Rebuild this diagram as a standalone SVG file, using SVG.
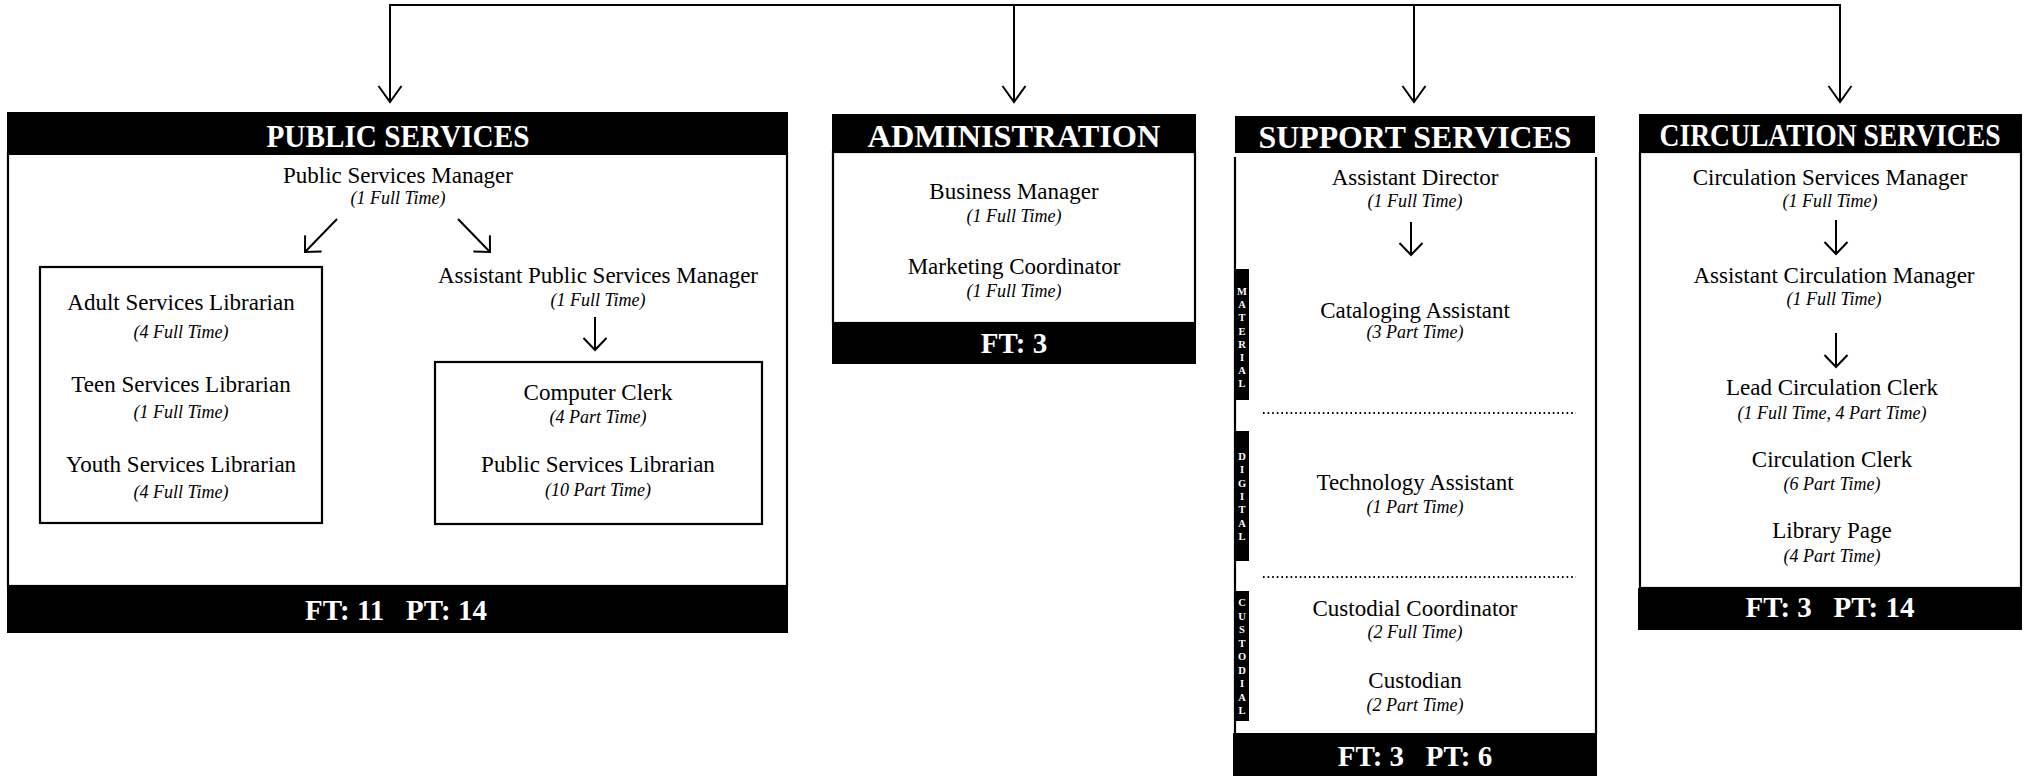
<svg xmlns="http://www.w3.org/2000/svg" width="2025" height="776" viewBox="0 0 2025 776">
<style>
.bg{fill:#fff}
.bar{fill:#000}
.box{fill:#fff;stroke:#000;stroke-width:2.2}
.edge{fill:none;stroke:#000;stroke-width:2.2}
.ln{fill:none;stroke:#000;stroke-width:2}
.dot{fill:none;stroke:#000;stroke-width:2;stroke-dasharray:1.6 3}
text{font-family:"Liberation Serif","Times New Roman",serif;text-anchor:middle}
.h{font-size:32px;font-weight:bold;fill:#fff}
.f{font-size:29px;font-weight:bold;fill:#fff}
.t{font-size:23px;fill:#000}
.i{font-size:18px;font-style:italic;fill:#000}
.s{font-size:10.5px;font-weight:bold;fill:#fff}
</style>
<defs>
<marker id="ahMain" markerUnits="userSpaceOnUse" markerWidth="40" markerHeight="40" viewBox="-20 -20 40 40" refX="0" refY="0" orient="auto" overflow="visible">
<path d="M-16,-11.5 L0,0 L-16,11.5" fill="none" stroke="#000" stroke-width="2"/>
</marker>
<marker id="ahSmall" markerUnits="userSpaceOnUse" markerWidth="40" markerHeight="40" viewBox="-20 -20 40 40" refX="0" refY="0" orient="auto" overflow="visible">
<path d="M-12,-11.5 L0,0 L-12,11.5" fill="none" stroke="#000" stroke-width="2"/>
</marker>
</defs>
<rect class="bg" x="0" y="0" width="2025" height="776"/>

<g id="public-services">
<rect class="box" x="8" y="153" width="779" height="433"/>
<rect class="bar" x="7" y="112" width="781" height="43"/>
<rect class="bar" x="7" y="585" width="781" height="48"/>
<text class="h" x="398" y="147" textLength="263" lengthAdjust="spacingAndGlyphs">PUBLIC SERVICES</text>
<text class="t" x="398" y="183">Public Services Manager</text>
<text class="i" x="398" y="204">(1 Full Time)</text>
<rect class="box" x="40" y="267" width="282" height="256"/>
<text class="t" x="181" y="310">Adult Services Librarian</text>
<text class="i" x="181" y="338">(4 Full Time)</text>
<text class="t" x="181" y="392">Teen Services Librarian</text>
<text class="i" x="181" y="418">(1 Full Time)</text>
<text class="t" x="181" y="472">Youth Services Librarian</text>
<text class="i" x="181" y="498">(4 Full Time)</text>
<text class="t" x="598" y="283">Assistant Public Services Manager</text>
<text class="i" x="598" y="306">(1 Full Time)</text>
<rect class="box" x="435" y="362" width="327" height="162"/>
<text class="t" x="598" y="400">Computer Clerk</text>
<text class="i" x="598" y="423">(4 Part Time)</text>
<text class="t" x="598" y="472">Public Services Librarian</text>
<text class="i" x="598" y="496">(10 Part Time)</text>
<text class="f" x="396" y="620" xml:space="preserve">FT: 11   PT: 14</text>
</g>

<g id="administration">
<rect class="box" x="833" y="152" width="362" height="171"/>
<rect class="bar" x="832" y="114" width="364" height="39"/>
<rect class="bar" x="832" y="322" width="364" height="42"/>
<text class="h" x="1014" y="147" textLength="293" lengthAdjust="spacingAndGlyphs">ADMINISTRATION</text>
<text class="t" x="1014" y="199">Business Manager</text>
<text class="i" x="1014" y="222">(1 Full Time)</text>
<text class="t" x="1014" y="274">Marketing Coordinator</text>
<text class="i" x="1014" y="297">(1 Full Time)</text>
<text class="f" x="1014" y="353">FT: 3</text>
</g>

<g id="support-services">
<path class="edge" d="M1235,157 V734 M1596,157 V734"/>
<rect class="bar" x="1235" y="116" width="360" height="37"/>
<rect class="bar" x="1233" y="733" width="364" height="43"/>
<text class="h" x="1415" y="148" textLength="313" lengthAdjust="spacingAndGlyphs">SUPPORT SERVICES</text>
<text class="t" x="1415" y="185">Assistant Director</text>
<text class="i" x="1415" y="207">(1 Full Time)</text>
<text class="t" x="1415" y="318">Cataloging Assistant</text>
<text class="i" x="1415" y="338">(3 Part Time)</text>
<path class="dot" d="M1263,413 H1576"/>
<text class="t" x="1415" y="490">Technology Assistant</text>
<text class="i" x="1415" y="513">(1 Part Time)</text>
<path class="dot" d="M1263,577 H1576"/>
<text class="t" x="1415" y="616">Custodial Coordinator</text>
<text class="i" x="1415" y="638">(2 Full Time)</text>
<text class="t" x="1415" y="688">Custodian</text>
<text class="i" x="1415" y="711">(2 Part Time)</text>
<text class="f" x="1415" y="766" xml:space="preserve">FT: 3   PT: 6</text>
<g id="label-material">
<rect class="bar" x="1234" y="269" width="15" height="131"/>
<text class="s"><tspan x="1242" y="295">M</tspan><tspan x="1242" y="308.2">A</tspan><tspan x="1242" y="321.4">T</tspan><tspan x="1242" y="334.6">E</tspan><tspan x="1242" y="347.8">R</tspan><tspan x="1242" y="361">I</tspan><tspan x="1242" y="374.2">A</tspan><tspan x="1242" y="387.4">L</tspan></text>
</g>
<g id="label-digital">
<rect class="bar" x="1234" y="431" width="15" height="130"/>
<text class="s"><tspan x="1242" y="460">D</tspan><tspan x="1242" y="473.3">I</tspan><tspan x="1242" y="486.6">G</tspan><tspan x="1242" y="499.9">I</tspan><tspan x="1242" y="513.2">T</tspan><tspan x="1242" y="526.5">A</tspan><tspan x="1242" y="539.8">L</tspan></text>
</g>
<g id="label-custodial">
<rect class="bar" x="1234" y="591" width="15" height="130"/>
<text class="s"><tspan x="1242" y="606">C</tspan><tspan x="1242" y="619.5">U</tspan><tspan x="1242" y="633">S</tspan><tspan x="1242" y="646.5">T</tspan><tspan x="1242" y="660">O</tspan><tspan x="1242" y="673.5">D</tspan><tspan x="1242" y="687">I</tspan><tspan x="1242" y="700.5">A</tspan><tspan x="1242" y="714">L</tspan></text>
</g>
</g>

<g id="circulation-services">
<rect class="box" x="1640" y="152" width="381" height="436"/>
<rect class="bar" x="1639" y="114" width="383" height="38"/>
<rect class="bar" x="1638" y="588" width="384" height="42"/>
<text class="h" style="font-size:31px" transform="translate(1830,146) scale(0.89,1)" x="0" y="0">CIRCULATION SERVICES</text>
<text class="t" x="1830" y="185">Circulation Services Manager</text>
<text class="i" x="1830" y="207">(1 Full Time)</text>
<text class="t" x="1834" y="283">Assistant Circulation Manager</text>
<text class="i" x="1834" y="305">(1 Full Time)</text>
<text class="t" x="1832" y="395">Lead Circulation Clerk</text>
<text class="i" x="1832" y="419">(1 Full Time, 4 Part Time)</text>
<text class="t" x="1832" y="467">Circulation Clerk</text>
<text class="i" x="1832" y="490">(6 Part Time)</text>
<text class="t" x="1832" y="538">Library Page</text>
<text class="i" x="1832" y="562">(4 Part Time)</text>
<text class="f" x="1830" y="617" xml:space="preserve">FT: 3   PT: 14</text>
</g>

<g id="connectors">
<path class="ln" d="M389,5 H1841"/>
<path class="ln" d="M390,5 V102" marker-end="url(#ahMain)"/>
<path class="ln" d="M1014,5 V102" marker-end="url(#ahMain)"/>
<path class="ln" d="M1414,5 V102" marker-end="url(#ahMain)"/>
<path class="ln" d="M1840,5 V102" marker-end="url(#ahMain)"/>
<path class="ln" d="M337,219 L305,252" marker-end="url(#ahSmall)"/>
<path class="ln" d="M458,219 L490,252" marker-end="url(#ahSmall)"/>
<path class="ln" d="M595,317 V350" marker-end="url(#ahSmall)"/>
<path class="ln" d="M1411,222 V255" marker-end="url(#ahSmall)"/>
<path class="ln" d="M1836,220 V254" marker-end="url(#ahSmall)"/>
<path class="ln" d="M1836,333 V367" marker-end="url(#ahSmall)"/>
</g>
</svg>
